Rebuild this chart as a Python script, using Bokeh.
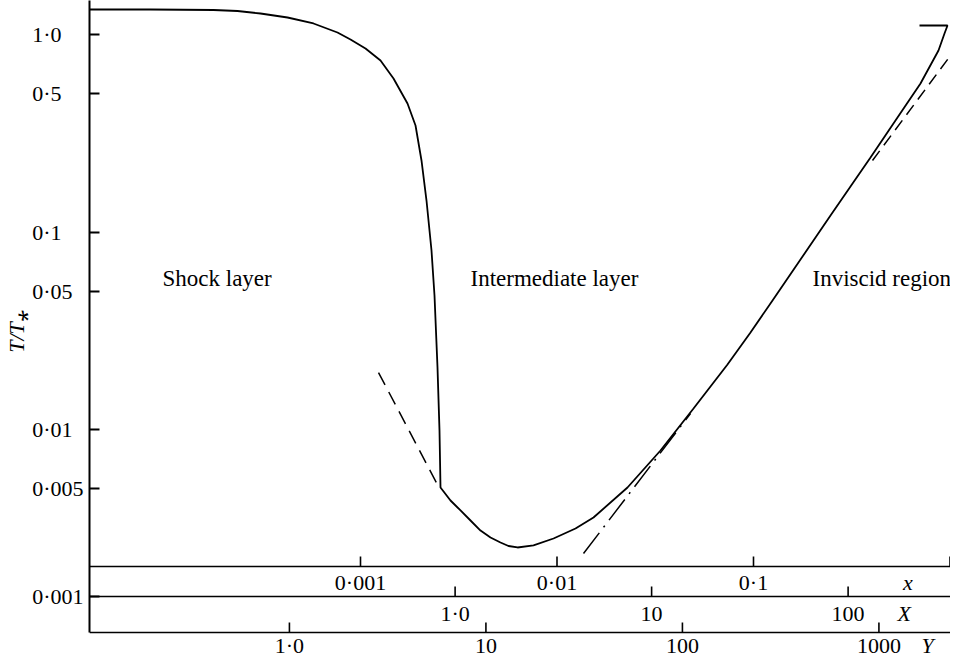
from bokeh.plotting import figure
from bokeh.models import Range1d, LogScale, FixedTicker, Span
from bokeh.core.properties import value
from bokeh.embed import file_html
from bokeh.resources import INLINE

# ---------------- data ----------------
# main solid curve: x (lower-case scale) and T/T*
curve_x = [4.1e-5, 8.536e-5, 1.786e-4, 2.366e-4, 3.098e-4, 4.252e-4, 5.765e-4,
           7.637e-4, 8.895e-4, 1.0604e-3, 1.2643e-3, 1.4723e-3, 1.7346e-3,
           1.9055e-3, 2.0437e-3, 2.1672e-3, 2.2980e-3, 2.3801e-3, 2.4653e-3,
           2.5237e-3, 2.5534e-3, 2.8708e-3, 3.2282e-3, 3.6292e-3, 4.0804e-3,
           4.5874e-3, 5.1584e-3, 5.6648e-3, 6.2953e-3,
           7.5925e-3, 9.5984e-3, 1.2421e-2, 1.5337e-2, 2.2844e-2, 3.363e-2,
           4.951e-2, 7.373e-2, 9.654e-2, 0.12497, 0.17346, 0.24653, 0.31163,
           0.39395, 0.54053, 0.70774, 0.87382, 0.93761, 0.97114, 0.6995]
curve_T = [1.3383, 1.3383, 1.3306, 1.3151, 1.2775, 1.2192, 1.1369, 1.0236,
           0.9434, 0.8494, 0.7385, 0.5988, 0.4472, 0.3461, 0.2302, 0.14434,
           0.08060, 0.04771, 0.020606, 0.009884, 0.005085, 4.370e-3, 3.890e-3,
           3.4613e-3, 3.080e-3, 2.839e-3, 2.678e-3, 2.5712e-3, 2.527e-3,
           2.587e-3, 2.806e-3, 3.153e-3, 3.584e-3,
           5.085e-3, 7.828e-3, 1.2775e-2, 2.1346e-2, 3.0987e-2, 4.4998e-2,
           7.2557e-2, 0.12122, 0.16999, 0.23838, 0.38000, 0.56471, 0.82996,
           1.01173, 1.11066, 1.11066]

left_dash_x = [1.2350e-3, 2.5237e-3]
left_dash_T = [0.019430, 5.026e-3]
right_dash_x = [0.40328, 1.0059]
right_dash_T = [0.2302, 0.78276]
dashdot_x = [1.3643e-2, 4.780e-2]
dashdot_T = [2.3562e-3, 1.2050e-2]

y_ticks = [1.0, 0.5, 0.1, 0.05, 0.01, 0.005]
y_tick_labels = ["1·0", "0·5", "0·1", "0·05", "0·01", "0·005"]
band_y_label = "0·001"

x_ticks = [0.001, 0.01, 0.1, 1.0]
x_tick_labels = ["0·001", "0·01", "0·1", ""]
X_ticks = [1.0, 10.0, 100.0]
X_tick_labels = ["1·0", "10", "100"]
Y_ticks = [1.0, 10.0, 100.0, 1000.0]
Y_tick_labels = ["1·0", "10", "100", "1000"]
X_PER_x = 330.0     # X = 330 x
Y_PER_x = 2300.0    # Y = 2300 x
scale_names = ["x", "X", "Y"]
scale_name_pos = [0.61, 193.0, 1770.0]

regions = ["Shock layer", "Intermediate layer", "Inviscid region"]
region_x = [9.826e-5, 3.629e-3, 0.19964]
region_T = 0.05815

# ---------------- layout ----------------
W, H, LEFT = 950, 662, 89
FW = W - LEFT
DEC_X, DEC_Y = 196.5, 197.5      # pixels per decade
X0_OFF = 271                     # x=0.001 from frame left (px)
T1_OFF = 34                      # T=1 from frame top (px)

x_start = 10 ** (-3 - X0_OFF / DEC_X)
x_end = 10 ** (-3 + (FW - X0_OFF) / DEC_X)
y_end = 10 ** (T1_OFF / DEC_Y)
y_start = 10 ** (-(H - T1_OFF) / DEC_Y)


def t_at(off):
    return 10 ** (-(off - T1_OFF) / DEC_Y)


band_T = [t_at(566), t_at(596), t_at(632)]   # the three scale lines


def below(t, px):
    return t * 10 ** (-px / DEC_Y)


FONT = "Liberation Serif"
FS = "22px"

p = figure(width=W, height=H, x_axis_type="log", y_axis_type="log",
           x_range=Range1d(x_start, x_end), y_range=Range1d(y_start, y_end),
           x_axis_location=None, output_backend="svg", toolbar_location=None,
           min_border_left=LEFT, min_border_right=0, min_border_top=0,
           min_border_bottom=0)
p.extra_x_ranges = {"X": Range1d(x_start * X_PER_x, x_end * X_PER_x),
                    "Y": Range1d(x_start * Y_PER_x, x_end * Y_PER_x)}
p.extra_x_scales = {"X": LogScale(), "Y": LogScale()}
p.grid.visible = False
p.outline_line_color = None
p.background_fill_color = "white"
p.border_fill_color = "white"

# y axis
ya = p.yaxis[0]
ya.ticker = FixedTicker(ticks=y_ticks + [band_T[1]])
pad = {"1·0": 2, "0·5": 2, "0·1": 2, "0·05": 1, "0·01": 1, "0·005": 0, "0·001": 0}
overrides = {t: l + "\u2007" * pad[l] for t, l in zip(y_ticks, y_tick_labels)}
overrides[band_T[1]] = band_y_label
ya.major_label_overrides = overrides
ya.bounds = (band_T[2], y_end)
ya.axis_line_width = 2
ya.axis_line_color = "black"
ya.major_tick_in = 10
ya.major_tick_out = 0
ya.major_tick_line_width = 2
ya.major_tick_line_color = "black"
ya.minor_tick_line_color = None
ya.major_label_standoff = 6
ya.major_label_text_font = FONT
ya.major_label_text_font_size = FS
ya.major_label_text_color = "black"
ya.axis_label = "T/T⁎"
ya.axis_label_text_font = FONT
ya.axis_label_text_font_style = "italic"
ya.axis_label_text_font_size = FS
ya.axis_label_text_color = "black"
ya.axis_label_standoff = 0

# scale lines at the bottom
for t in band_T:
    p.add_layout(Span(location=t, dimension="width", line_color="black",
                      line_width=1.6))

rows = [(x_ticks, x_tick_labels, "default", band_T[0], 16),
        (X_ticks, X_tick_labels, "X", band_T[1], 17),
        (Y_ticks, Y_tick_labels, "Y", band_T[2], 13)]
for (ticks, labels, rng, t, drop), name, npos in zip(rows, scale_names, scale_name_pos):
    p.ray(x=ticks, y=[t] * len(ticks), length=10, length_units="screen",
          angle=90, angle_units="deg", line_color="black", line_width=1.6,
          x_range_name=rng)
    p.text(x=ticks, y=[below(t, drop)] * len(ticks), text=labels,
           x_range_name=rng, text_font=value(FONT), text_font_size=FS,
           text_align="center", text_baseline="middle", text_color="black")
    p.text(x=[npos], y=[below(t, drop)], text=[name], x_range_name=rng,
           text_font=value(FONT), text_font_size=FS, text_font_style="italic",
           text_align="center", text_baseline="middle", text_color="black")

# curves
p.line(curve_x, curve_T, line_color="black", line_width=1.8)
p.line(left_dash_x, left_dash_T, line_color="black", line_width=1.5,
       line_dash="14 8")
p.line(right_dash_x, right_dash_T, line_color="black", line_width=1.5,
       line_dash="12 7")
p.line(dashdot_x, dashdot_T, line_color="black", line_width=1.5,
       line_dash="26 7 2 7")

# region labels
p.text(x=region_x, y=[region_T] * len(regions), text=regions,
       text_font=value(FONT), text_font_size="23px", text_align="left",
       text_baseline="alphabetic", text_color="black")

open("out.html", "w").write(file_html(p, INLINE))
